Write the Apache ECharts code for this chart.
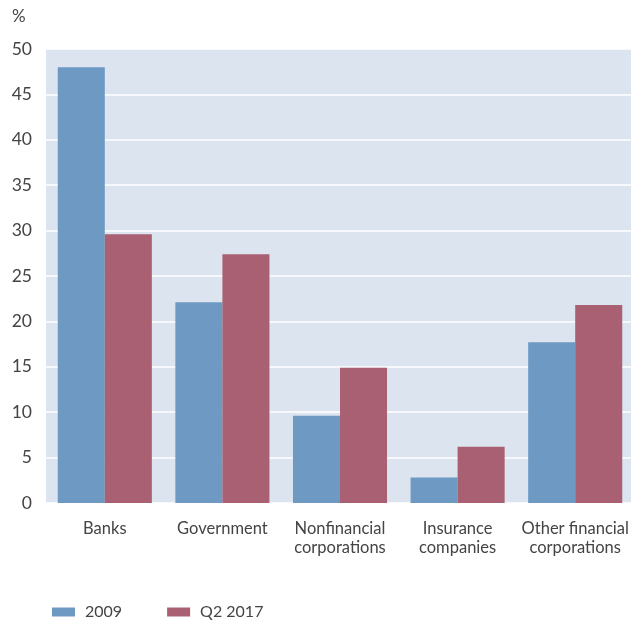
<!DOCTYPE html>
<html>
<head>
<meta charset="utf-8">
<script src="https://cdn.jsdelivr.net/npm/echarts@6/dist/echarts.min.js"></script>
<style>
html,body{margin:0;padding:0;background:#fff;overflow:hidden;}
#c{width:634px;height:621px;}
</style>
</head>
<body>
<div id="c"></div>
<script>
const categories = ['Banks', 'Government', 'Nonfinancial\ncorporations', 'Insurance\ncompanies', 'Other financial\ncorporations'];
const series2009 = [48.0, 22.1, 9.6, 2.8, 17.7];
const seriesQ2_2017 = [29.6, 27.4, 14.9, 6.2, 21.8];
const seriesNames = ['2009', 'Q2 2017'];
const yTicks = {min: 0, max: 50, interval: 5};

const font = 'Lato, "Open Sans", sans-serif';
const chart = echarts.init(document.getElementById('c'), null, {renderer: 'canvas'});
chart.setOption({
  animation: false,
  textStyle: {fontFamily: font},
  grid: {left: 46, right: 0, top: 49, bottom: 118, show: true, backgroundColor: '#dbe4ef', borderWidth: 0, containLabel: false},
  graphic: [{type: 'text', left: 12, top: 8, style: {text: '%', fontSize: 17, fill: '#444444', fontFamily: font}}],
  legend: {
    left: 47, top: 599, itemWidth: 23, itemHeight: 9, itemGap: 45, padding: 5,
    icon: 'rect',
    textStyle: {fontSize: 16, color: '#444444', fontFamily: font, padding: [0, 0, 0, 5]},
    data: seriesNames
  },
  xAxis: {
    type: 'category', data: categories,
    axisLine: {show: false}, axisTick: {show: false},
    axisLabel: {fontSize: 16.5, color: '#444444', margin: 16, lineHeight: 19, interval: 0, fontFamily: font}
  },
  yAxis: {
    type: 'value', min: yTicks.min, max: yTicks.max, interval: yTicks.interval,
    axisLine: {show: false}, axisTick: {show: false},
    axisLabel: {fontSize: 17.5, color: '#444444', margin: 14, fontFamily: font},
    splitLine: {show: true, lineStyle: {color: '#ffffff', width: 1.5}}
  },
  series: [
    {name: seriesNames[0], type: 'bar', data: series2009, barGap: '0%', barCategoryGap: '20%',
     itemStyle: {color: '#6e99c3'}},
    {name: seriesNames[1], type: 'bar', data: seriesQ2_2017, barGap: '0%', barCategoryGap: '20%',
     itemStyle: {color: '#a86072'}}
  ]
});
</script>
</body>
</html>
